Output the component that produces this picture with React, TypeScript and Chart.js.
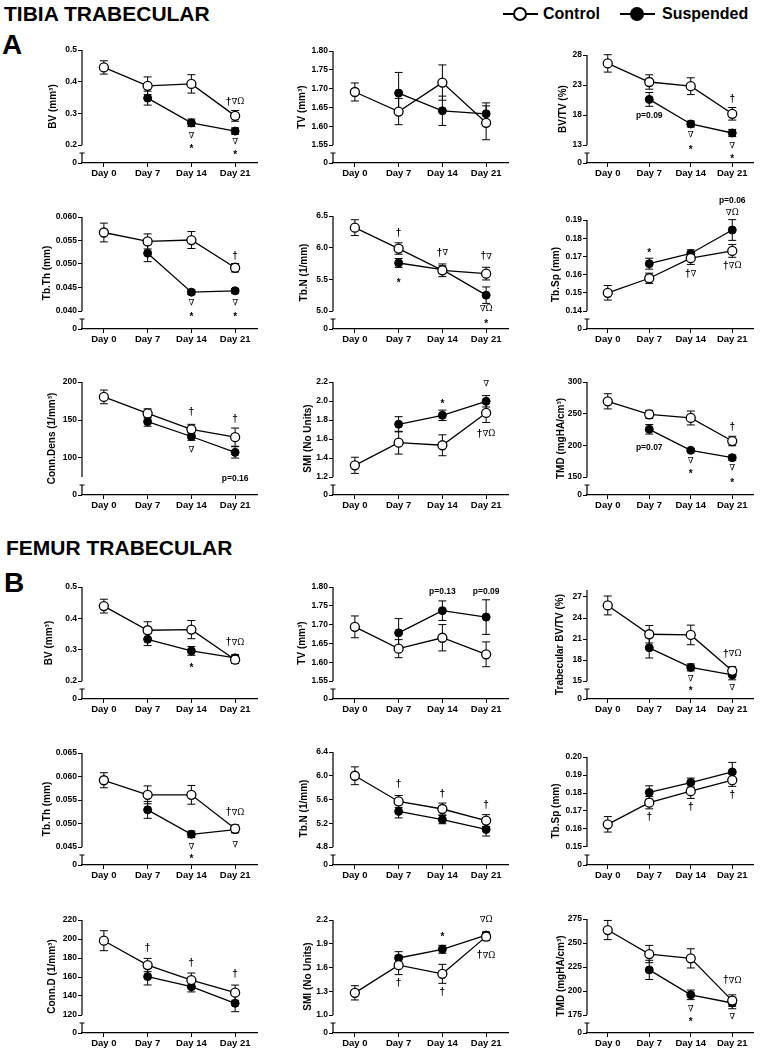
import React, { useEffect, useRef } from 'react';
import { Chart, registerables } from 'chart.js';

Chart.register(...registerables);
Chart.defaults.font.family = '"Liberation Sans", Arial, sans-serif';
Chart.defaults.color = '#000';

const days = ['Day 0', 'Day 7', 'Day 14', 'Day 21'];

// ---------- TIBIA ----------
const tBvTicks = [0.2, 0.3, 0.4, 0.5];
const tBvCtrl = [0.445, 0.387, 0.393, 0.292];
const tBvCtrlErr = [0.021, 0.028, 0.029, 0.017];
const tBvSusp = [null, 0.348, 0.27, 0.244];
const tBvSuspErr = [null, 0.022, 0.012, 0.01];

const tTvTicks = [1.55, 1.6, 1.65, 1.7, 1.75, 1.8];
const tTvCtrl = [1.691, 1.639, 1.716, 1.609];
const tTvCtrlErr = [0.024, 0.035, 0.047, 0.045];
const tTvSusp = [null, 1.688, 1.641, 1.633];
const tTvSuspErr = [null, 0.055, 0.039, 0.029];

const tBvtvTicks = [13, 18, 23, 28];
const tBvtvCtrl = [26.6, 23.5, 22.8, 18.2];
const tBvtvCtrlErr = [1.45, 1.2, 1.4, 1.05];
const tBvtvSusp = [null, 20.6, 16.5, 15.0];
const tBvtvSuspErr = [null, 1.15, 0.5, 0.6];

const tThTicks = [0.04, 0.045, 0.05, 0.055, 0.06];
const tThCtrl = [0.0567, 0.0548, 0.0551, 0.0492];
const tThCtrlErr = [0.002, 0.0016, 0.0018, 0.0009];
const tThSusp = [null, 0.0523, 0.044, 0.0443];
const tThSuspErr = [null, 0.0018, 0.0005, 0.0005];

const tNTicks = [5.0, 5.5, 6.0, 6.5];
const tNCtrl = [6.316, 5.986, 5.643, 5.59];
const tNCtrlErr = [0.125, 0.09, 0.1, 0.1];
const tNSusp = [null, 5.758, 5.654, 5.25];
const tNSuspErr = [null, 0.07, 0.06, 0.13];

const tSpTicks = [0.14, 0.15, 0.16, 0.17, 0.18, 0.19];
const tSpCtrl = [0.15, 0.158, 0.169, 0.173];
const tSpCtrlErr = [0.004, 0.0028, 0.0034, 0.0035];
const tSpSusp = [null, 0.166, 0.1716, 0.1845];
const tSpSuspErr = [null, 0.003, 0.002, 0.0057];

const tCdTicks = [100, 150, 200];
const tCdCtrl = [180.4, 158.7, 137.8, 127.4];
const tCdCtrlErr = [9, 6, 6.5, 12];
const tCdSusp = [null, 147.8, 128.3, 107.4];
const tCdSuspErr = [null, 6, 5, 7.5];

const tSmiTicks = [1.2, 1.4, 1.6, 1.8, 2.0, 2.2];
const tSmiCtrl = [1.323, 1.561, 1.534, 1.874];
const tSmiCtrlErr = [0.085, 0.12, 0.11, 0.1];
const tSmiSusp = [null, 1.755, 1.849, 1.997];
const tSmiSuspErr = [null, 0.08, 0.055, 0.06];

const tTmdTicks = [150, 200, 250, 300];
const tTmdCtrl = [269.5, 248.9, 243.2, 206.8];
const tTmdCtrlErr = [12, 6.5, 11, 7.5];
const tTmdSusp = [null, 225.3, 192.1, 180.5];
const tTmdSuspErr = [null, 7.5, 2, 4];

// ---------- FEMUR ----------
const fBvTicks = [0.2, 0.3, 0.4, 0.5];
const fBvCtrl = [0.439, 0.362, 0.364, 0.268];
const fBvCtrlErr = [0.022, 0.027, 0.029, 0.012];
const fBvSusp = [null, 0.333, 0.296, 0.274];
const fBvSuspErr = [null, 0.02, 0.014, 0.01];

const fTvTicks = [1.55, 1.6, 1.65, 1.7, 1.75, 1.8];
const fTvCtrl = [1.694, 1.636, 1.665, 1.621];
const fTvCtrlErr = [0.029, 0.024, 0.035, 0.033];
const fTvSusp = [null, 1.678, 1.737, 1.72];
const fTvSuspErr = [null, 0.038, 0.026, 0.046];

const fBvtvTicks = [15, 18, 21, 24, 27];
const fBvtvCtrl = [25.79, 21.68, 21.58, 16.45];
const fBvtvCtrlErr = [1.35, 1.25, 1.4, 0.6];
const fBvtvSusp = [null, 19.74, 16.94, 15.87];
const fBvtvSuspErr = [null, 1.45, 0.5, 0.7];

const fThTicks = [0.045, 0.05, 0.055, 0.06, 0.065];
const fThCtrl = [0.0592, 0.0561, 0.0561, 0.0489];
const fThCtrlErr = [0.0016, 0.0019, 0.002, 0.0008];
const fThSusp = [null, 0.0529, 0.0477, 0.0487];
const fThSuspErr = [null, 0.0018, 0.0007, 0.0007];

const fNTicks = [4.8, 5.2, 5.6, 6.0, 6.4];
const fNCtrl = [6.0, 5.567, 5.44, 5.245];
const fNCtrlErr = [0.15, 0.1, 0.1, 0.1];
const fNSusp = [null, 5.4, 5.262, 5.095];
const fNSuspErr = [null, 0.11, 0.07, 0.11];

const fSpTicks = [0.15, 0.16, 0.17, 0.18, 0.19, 0.2];
const fSpCtrl = [0.1626, 0.1746, 0.181, 0.1871];
const fSpCtrlErr = [0.0043, 0.0034, 0.004, 0.0034];
const fSpSusp = [null, 0.1803, 0.1858, 0.1917];
const fSpSuspErr = [null, 0.0037, 0.0025, 0.0053];

const fCdTicks = [120, 140, 160, 180, 200, 220];
const fCdCtrl = [198.2, 172.6, 156.8, 143.5];
const fCdCtrlErr = [10.5, 7, 7.4, 8];
const fCdSusp = [null, 160.4, 149.8, 132.3];
const fCdSuspErr = [null, 8.8, 5.5, 8.8];

const fSmiTicks = [1.0, 1.3, 1.6, 1.9, 2.2];
const fSmiCtrl = [1.28, 1.63, 1.52, 1.99];
const fSmiCtrlErr = [0.09, 0.12, 0.12, 0.05];
const fSmiSusp = [null, 1.72, 1.83, 2.01];
const fSmiSuspErr = [null, 0.08, 0.05, 0.04];

const fTmdTicks = [175, 200, 225, 250, 275];
const fTmdCtrl = [263.5, 238.5, 234, 190];
const fTmdCtrlErr = [10, 9, 10, 6];
const fTmdSusp = [null, 222, 196, 187.5];
const fTmdSuspErr = [null, 10, 5, 6];

// annotations: [series (0 control, 1 suspended), day index, text, offset px from point]
type Note = [number, number, string, number];

const PADT = 34, PADR = 6, YW = 80, XH = 22, GAP = 18;
const COLS = [
  { axisX: 82, endX: 257 },
  { axisX: 333, endX: 508 },
  { axisX: 587, endX: 753 },
];

type Panel = {
  title: string; col: number; topY: number; zeroY: number; max: number;
  ticks: number[]; axisLo?: number; dec: number; titleDx: number;
  ctrl: (number | null)[]; ctrlErr: (number | null)[];
  susp: (number | null)[]; suspErr: (number | null)[];
  notes: Note[];
};

const panels: Panel[] = [
  { title: 'BV (mm³)', col: 0, topY: 50, zeroY: 163, max: 0.5, ticks: tBvTicks, dec: 1, titleDx: 29,
    ctrl: tBvCtrl, ctrlErr: tBvCtrlErr, susp: tBvSusp, suspErr: tBvSuspErr,
    notes: [[1, 2, '∇', 13], [1, 2, '*', 23], [1, 3, '∇', 11], [1, 3, '*', 21], [0, 3, '†∇Ω', -14]] },
  { title: 'TV (mm³)', col: 1, topY: 51, zeroY: 163, max: 1.8, ticks: tTvTicks, dec: 2, titleDx: 31,
    ctrl: tTvCtrl, ctrlErr: tTvCtrlErr, susp: tTvSusp, suspErr: tTvSuspErr, notes: [] },
  { title: 'BV/TV (%)', col: 2, topY: 55, zeroY: 163, max: 28, ticks: tBvtvTicks, dec: 0, titleDx: 24,
    ctrl: tBvtvCtrl, ctrlErr: tBvtvCtrlErr, susp: tBvtvSusp, suspErr: tBvtvSuspErr,
    notes: [[1, 1, 'p=0.09', 16], [1, 2, '∇', 11], [1, 2, '*', 23], [1, 3, '∇', 13], [1, 3, '*', 23], [0, 3, '†', -15]] },

  { title: 'Tb.Th (mm)', col: 0, topY: 217, zeroY: 329, max: 0.06, ticks: tThTicks, dec: 3, titleDx: 35,
    ctrl: tThCtrl, ctrlErr: tThCtrlErr, susp: tThSusp, suspErr: tThSuspErr,
    notes: [[1, 2, '∇', 11], [1, 2, '*', 22], [1, 3, '∇', 12], [1, 3, '*', 23], [0, 3, '†', -12]] },
  { title: 'Tb.N (1/mm)', col: 1, topY: 216, zeroY: 329, max: 6.5, ticks: tNTicks, dec: 1, titleDx: 29,
    ctrl: tNCtrl, ctrlErr: tNCtrlErr, susp: tNSusp, suspErr: tNSuspErr,
    notes: [[0, 1, '†', -15], [1, 1, '*', 17], [0, 2, '†∇', -17], [0, 3, '†∇', -17], [1, 3, '∇Ω', 14], [1, 3, '*', 26]] },
  { title: 'Tb.Sp (mm)', col: 2, topY: 220, zeroY: 329, max: 0.19, ticks: tSpTicks, dec: 2, titleDx: 31,
    ctrl: tSpCtrl, ctrlErr: tSpCtrlErr, susp: tSpSusp, suspErr: tSpSuspErr,
    notes: [[1, 1, '*', -13], [0, 2, '†∇', 16], [1, 3, '∇Ω', -17], [1, 3, 'p=0.06', -29], [0, 3, '†∇Ω', 15]] },

  { title: 'Conn.Dens (1/mm³)', col: 0, topY: 382, zeroY: 495, max: 200, ticks: tCdTicks, axisLo: 75, dec: 0, titleDx: 30,
    ctrl: tCdCtrl, ctrlErr: tCdCtrlErr, susp: tCdSusp, suspErr: tCdSuspErr,
    notes: [[0, 2, '†', -17], [1, 2, '∇', 13], [0, 3, '†', -18], [1, 3, 'p=0.16', 26]] },
  { title: 'SMI (No Units)', col: 1, topY: 382, zeroY: 495, max: 2.2, ticks: tSmiTicks, dec: 1, titleDx: 25,
    ctrl: tSmiCtrl, ctrlErr: tSmiCtrlErr, susp: tSmiSusp, suspErr: tSmiSuspErr,
    notes: [[1, 2, '*', -14], [1, 3, '∇', -17], [0, 3, '†∇Ω', 21]] },
  { title: 'TMD (mgHA/cm³)', col: 2, topY: 382, zeroY: 495, max: 300, ticks: tTmdTicks, dec: 0, titleDx: 26,
    ctrl: tTmdCtrl, ctrlErr: tTmdCtrlErr, susp: tTmdSusp, suspErr: tTmdSuspErr,
    notes: [[1, 1, 'p=0.07', 18], [1, 2, '∇', 10], [1, 2, '*', 21], [0, 3, '†', -14], [1, 3, '∇', 10], [1, 3, '*', 23]] },

  { title: 'BV (mm³)', col: 0, topY: 587, zeroY: 699, max: 0.5, ticks: fBvTicks, dec: 1, titleDx: 33,
    ctrl: fBvCtrl, ctrlErr: fBvCtrlErr, susp: fBvSusp, suspErr: fBvSuspErr,
    notes: [[1, 2, '*', 14], [0, 3, '†∇Ω', -17]] },
  { title: 'TV (mm³)', col: 1, topY: 587, zeroY: 699, max: 1.8, ticks: fTvTicks, dec: 2, titleDx: 31,
    ctrl: fTvCtrl, ctrlErr: fTvCtrlErr, susp: fTvSusp, suspErr: fTvSuspErr,
    notes: [[1, 2, 'p=0.13', -19], [1, 3, 'p=0.09', -25]] },
  { title: 'Trabecular BV/TV (%)', col: 2, topY: 590, zeroY: 699, max: 28, ticks: fBvtvTicks, dec: 0, titleDx: 27,
    ctrl: fBvtvCtrl, ctrlErr: fBvtvCtrlErr, susp: fBvtvSusp, suspErr: fBvtvSuspErr,
    notes: [[1, 2, '∇', 11], [1, 2, '*', 21], [0, 3, '†∇Ω', -17], [1, 3, '∇', 13]] },

  { title: 'Tb.Th (mm)', col: 0, topY: 753, zeroY: 865, max: 0.065, ticks: fThTicks, dec: 3, titleDx: 35,
    ctrl: fThCtrl, ctrlErr: fThCtrlErr, susp: fThSusp, suspErr: fThSuspErr,
    notes: [[0, 3, '†∇Ω', -16], [1, 2, '∇', 12], [1, 2, '*', 22], [1, 3, '∇', 15]] },
  { title: 'Tb.N (1/mm)', col: 1, topY: 752, zeroY: 865, max: 6.4, ticks: fNTicks, dec: 1, titleDx: 29,
    ctrl: fNCtrl, ctrlErr: fNCtrlErr, susp: fNSusp, suspErr: fNSuspErr,
    notes: [[0, 1, '†', -17], [0, 2, '†', -15], [0, 3, '†', -15]] },
  { title: 'Tb.Sp (mm)', col: 2, topY: 757, zeroY: 865, max: 0.2, ticks: fSpTicks, dec: 2, titleDx: 31,
    ctrl: fSpCtrl, ctrlErr: fSpCtrlErr, susp: fSpSusp, suspErr: fSpSuspErr,
    notes: [[0, 1, '†', 15], [0, 2, '†', 16], [0, 3, '†', 15]] },

  { title: 'Conn.D (1/mm³)', col: 0, topY: 920, zeroY: 1033, max: 220, ticks: fCdTicks, dec: 0, titleDx: 30,
    ctrl: fCdCtrl, ctrlErr: fCdCtrlErr, susp: fCdSusp, suspErr: fCdSuspErr,
    notes: [[0, 1, '†', -17], [0, 2, '†', -17], [0, 3, '†', -18]] },
  { title: 'SMI (No Units)', col: 1, topY: 920, zeroY: 1033, max: 2.2, ticks: fSmiTicks, dec: 1, titleDx: 25,
    ctrl: fSmiCtrl, ctrlErr: fSmiCtrlErr, susp: fSmiSusp, suspErr: fSmiSuspErr,
    notes: [[0, 1, '†', 18], [1, 2, '*', -15], [0, 2, '†', 18], [1, 3, '∇Ω', -15], [0, 3, '†∇Ω', 19]] },
  { title: 'TMD (mgHA/cm³)', col: 2, topY: 919, zeroY: 1033, max: 275, ticks: fTmdTicks, dec: 0, titleDx: 26,
    ctrl: fTmdCtrl, ctrlErr: fTmdCtrlErr, susp: fTmdSusp, suspErr: fTmdSuspErr,
    notes: [[1, 2, '∇', 14], [1, 2, '*', 24], [0, 3, '†∇Ω', -20], [1, 3, '∇', 14]] },
];

const FONT = '"Liberation Sans", Arial, "DejaVu Sans", sans-serif';
const SYMFONT = '"DejaVu Serif", "Liberation Serif", serif';

function drawNote(ctx: CanvasRenderingContext2D, text: string, x: number, y: number) {
  ctx.textBaseline = 'middle';
  if (text.startsWith('p=')) {
    ctx.font = `bold 8.5px ${FONT}`;
    ctx.textAlign = 'center';
    ctx.fillText(text, x, y);
    return;
  }
  const parts = Array.from(text).map((ch) => {
    let font = `bold 10px ${FONT}`;
    let dy = 0;
    if (ch === '∇') font = `8.5px ${SYMFONT}`;
    else if (ch === 'Ω') font = `8.5px ${SYMFONT}`;
    else if (ch === '*') dy = 3;
    ctx.font = font;
    return { ch, font, dy, w: ctx.measureText(ch).width };
  });
  const total = parts.reduce((s, q) => s + q.w, 0);
  let cx = x - total / 2;
  ctx.textAlign = 'left';
  parts.forEach((q) => {
    ctx.font = q.font;
    ctx.fillText(q.ch, cx, y + q.dy);
    cx += q.w;
  });
}

function makeChart(canvas: HTMLCanvasElement, p: Panel) {
  const lowest = p.axisLo ?? p.ticks[0];
  const ppu = (p.zeroY - GAP - p.topY) / (p.max - lowest);
  const yMin = lowest - GAP / ppu;

  const errPlugin = {
    id: 'errbars',
    beforeDatasetsDraw(chart: any) {
      const ctx = chart.ctx, xs = chart.scales.x, ys = chart.scales.y;
      ctx.save();
      ctx.strokeStyle = '#000';
      ctx.lineWidth = 1;
      const sets: [(number | null)[], (number | null)[]][] = [[p.susp, p.suspErr], [p.ctrl, p.ctrlErr]];
      sets.forEach(([vals, errs]) => {
        vals.forEach((v, i) => {
          const e = errs[i];
          if (v == null || e == null) return;
          const x = xs.getPixelForValue(i);
          const y1 = ys.getPixelForValue(v + e);
          const y2 = ys.getPixelForValue(v - e);
          ctx.beginPath();
          ctx.moveTo(x, y1); ctx.lineTo(x, y2);
          ctx.moveTo(x - 4, y1); ctx.lineTo(x + 4, y1);
          ctx.moveTo(x - 4, y2); ctx.lineTo(x + 4, y2);
          ctx.stroke();
        });
      });
      ctx.restore();
    },
  };

  const decorPlugin = {
    id: 'decor',
    afterDraw(chart: any) {
      const ctx = chart.ctx, a = chart.chartArea, xs = chart.scales.x, ys = chart.scales.y;
      ctx.save();
      ctx.strokeStyle = '#000';
      ctx.lineWidth = 1.2;
      const ax = a.left;
      ctx.beginPath();
      ctx.moveTo(ax, a.top);
      ctx.lineTo(ax, ys.getPixelForValue(lowest));
      ctx.moveTo(ax, a.bottom - 10);
      ctx.lineTo(ax, a.bottom);
      ctx.moveTo(ax - 2.5, a.bottom - 10);
      ctx.lineTo(ax + 2.5, a.bottom - 10);
      ctx.stroke();
      ctx.restore();

      ctx.save();
      ctx.fillStyle = '#000';
      ctx.translate(ax - p.titleDx, (a.top + a.bottom) / 2);
      ctx.rotate(-Math.PI / 2);
      ctx.font = `bold 10px ${FONT}`;
      ctx.textAlign = 'center';
      ctx.textBaseline = 'middle';
      ctx.fillText(p.title, 0, 0);
      ctx.restore();

      ctx.save();
      ctx.fillStyle = '#000';
      p.notes.forEach(([s, i, text, dy]) => {
        const v = s === 0 ? p.ctrl[i] : p.susp[i];
        if (v == null) return;
        const x = xs.getPixelForValue(i);
        const y = ys.getPixelForValue(v) + dy;
        drawNote(ctx, text, x, y);
      });
      ctx.restore();
    },
  };

  return new Chart(canvas, {
    type: 'line',
    data: {
      labels: days,
      datasets: [
        {
          label: 'Control', data: p.ctrl as any, borderColor: '#000', borderWidth: 1.3,
          pointRadius: 4.5, pointBackgroundColor: '#fff', pointBorderColor: '#000', pointBorderWidth: 1.3,
          tension: 0, clip: false as any,
        },
        {
          label: 'Suspended', data: p.susp as any, borderColor: '#000', borderWidth: 1.3,
          pointRadius: 4, pointBackgroundColor: '#000', pointBorderColor: '#000', pointBorderWidth: 1,
          tension: 0, clip: false as any,
        },
      ],
    },
    options: {
      responsive: false,
      animation: false,
      events: [],
      layout: { padding: { top: PADT, right: PADR, left: 0, bottom: 0 } },
      plugins: { legend: { display: false }, tooltip: { enabled: false } },
      scales: {
        x: {
          type: 'category',
          offset: true,
          grid: { display: true, drawOnChartArea: false, drawTicks: true, tickLength: 4, color: '#000', lineWidth: 1 },
          border: { display: true, color: '#000', width: 1.2 },
          ticks: { color: '#000', font: { size: 9.5, weight: 'bold', family: FONT }, padding: 1, maxRotation: 0, autoSkip: false },
          afterFit: (s: any) => { s.height = XH; },
        },
        y: {
          type: 'linear',
          min: yMin,
          max: p.max,
          bounds: 'data',
          grid: { display: true, drawOnChartArea: false, drawTicks: true, tickLength: 4, color: '#000', lineWidth: 1 },
          border: { display: false },
          ticks: {
            color: '#000', font: { size: 8.5, weight: 'bold', family: FONT }, padding: 1, autoSkip: false,
            callback: (v: any, idx: number) => (idx === 0 ? '0' : Number(v).toFixed(p.dec)),
          },
          afterBuildTicks: (s: any) => { s.ticks = [yMin, ...p.ticks].map((v) => ({ value: v })); },
          afterFit: (s: any) => { s.width = YW; },
        },
      },
    } as any,
    plugins: [errPlugin, decorPlugin],
  });
}

function PanelChart({ p }: { p: Panel }) {
  const ref = useRef<HTMLCanvasElement>(null);
  const { axisX, endX } = COLS[p.col];
  const left = axisX - YW;
  const top = p.topY - PADT;
  const width = endX + PADR - left;
  const height = p.zeroY + XH - top;
  useEffect(() => {
    const chart = makeChart(ref.current as HTMLCanvasElement, p);
    return () => chart.destroy();
  }, []);
  return (
    <canvas ref={ref} width={width} height={height}
      style={{ position: 'absolute', left, top, width, height }} />
  );
}

const txt = (extra: any) => ({
  position: 'absolute' as const, fontFamily: FONT, fontWeight: 'bold' as const,
  lineHeight: 1, color: '#000', whiteSpace: 'nowrap' as const, ...extra,
});

export default function App() {
  return (
    <div style={{ position: 'absolute', left: 0, top: 0, width: 764, height: 1049, background: '#fff', overflow: 'hidden' }}>
      <div style={txt({ left: 4, top: 3, fontSize: 21 })}>TIBIA TRABECULAR</div>
      <div style={txt({ left: 2, top: 31, fontSize: 28 })}>A</div>
      <div style={txt({ left: 6, top: 537, fontSize: 21 })}>FEMUR TRABECULAR</div>
      <div style={txt({ left: 4, top: 569, fontSize: 28 })}>B</div>

      <div style={{ position: 'absolute', left: 503, top: 13, width: 35, height: 0, borderTop: '2px solid #000' }} />
      <div style={{ position: 'absolute', left: 513, top: 7, width: 10, height: 10, borderRadius: '50%', border: '2px solid #000', background: '#fff' }} />
      <div style={txt({ left: 543, top: 6, fontSize: 16 })}>Control</div>
      <div style={{ position: 'absolute', left: 620, top: 13, width: 35, height: 0, borderTop: '2px solid #000' }} />
      <div style={{ position: 'absolute', left: 630, top: 7, width: 10, height: 10, borderRadius: '50%', border: '2px solid #000', background: '#000' }} />
      <div style={txt({ left: 662, top: 6, fontSize: 16 })}>Suspended</div>

      {panels.map((p, i) => <PanelChart key={i} p={p} />)}
    </div>
  );
}
